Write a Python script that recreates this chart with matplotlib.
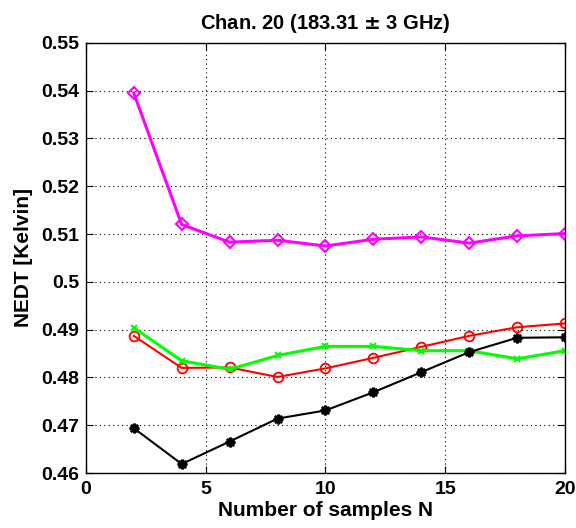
import numpy as np
import matplotlib
matplotlib.use('Agg')
import matplotlib.pyplot as plt

plt.rcParams['font.family'] = ['Liberation Sans', 'DejaVu Sans']
plt.rcParams['font.weight'] = 'bold'

n_samples = [2, 4, 6, 8, 10, 12, 14, 16, 18, 20]
nedt_magenta = [0.5395, 0.5120, 0.5083, 0.5087, 0.5075, 0.5089, 0.5094, 0.5081, 0.5096, 0.5101]
nedt_red = [0.4887, 0.4820, 0.4821, 0.4801, 0.4819, 0.4841, 0.4864, 0.4887, 0.4905, 0.4913]
nedt_green = [0.4904, 0.4835, 0.4817, 0.4846, 0.4865, 0.4865, 0.4856, 0.4856, 0.4839, 0.4856]
nedt_black = [0.4694, 0.4619, 0.4666, 0.4714, 0.4731, 0.4769, 0.4811, 0.4853, 0.4883, 0.4884]

fig = plt.figure(figsize=(5.76, 5.28), dpi=100)
ax = fig.add_axes([0.149, 0.104, 0.832, 0.815])

ax.plot(n_samples, nedt_magenta, color='#ff00ff', lw=2.2, marker='D', ms=6.5, mfc='none', mew=1.5)
ax.plot(n_samples, nedt_red, color='#ff0000', lw=1.5, marker='o', ms=7, mfc='none', mew=1.3)
ax.plot(n_samples, nedt_green, color='#00ff00', lw=2.2, marker='x', ms=5, mew=1.5)
ax.plot(n_samples, nedt_black, color='black', lw=1.5, marker=(8, 2, 0), ms=7, mew=1.8)

ax.set_xlim(0, 20)
ax.set_ylim(0.46, 0.55)
ax.set_xticks([0, 5, 10, 15, 20])
ax.set_yticks(np.arange(0.46, 0.5501, 0.01))
ax.set_yticklabels(['0.46', '0.47', '0.48', '0.49', '0.5', '0.51', '0.52', '0.53', '0.54', '0.55'])
ax.tick_params(direction='in', labelsize=14, top=True, right=True, length=5)
ax.tick_params(axis='y', pad=5)
ax.tick_params(axis='x', pad=6)
ax.grid(True, color='black', linestyle=(0, (1, 3)), linewidth=0.8)
for s in ax.spines.values():
    s.set_linewidth(1.0)

ax.set_title('Chan. 20 (183.31 $\\pm$ 3 GHz)', fontsize=14.5, fontweight='bold', pad=10)
ax.set_xlabel('Number of samples N', fontsize=15, fontweight='bold', labelpad=2)
ax.set_ylabel('NEDT [Kelvin]', fontsize=15, fontweight='bold', labelpad=6)

fig.savefig('out.png', dpi=100)
